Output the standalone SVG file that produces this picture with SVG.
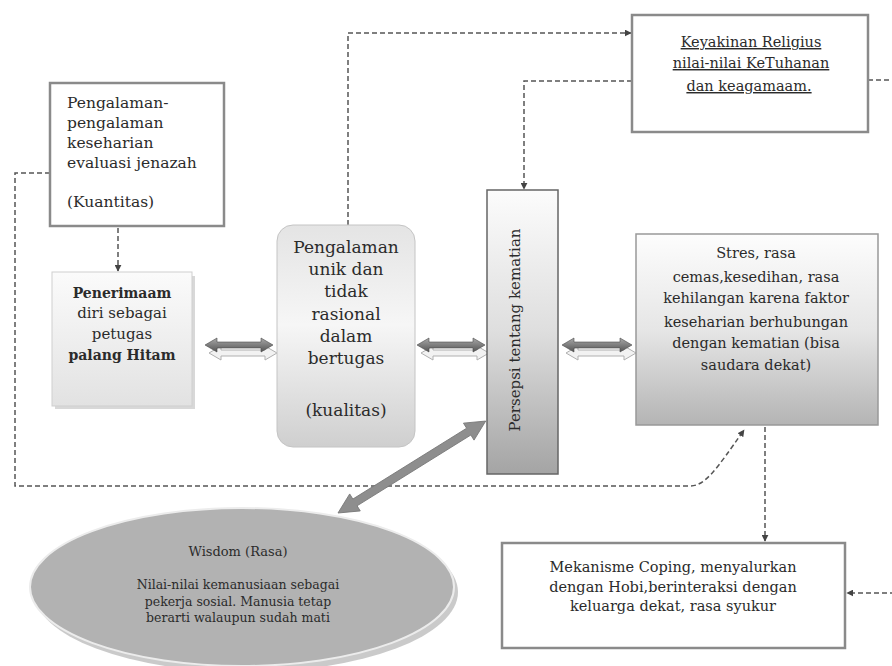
<svg xmlns="http://www.w3.org/2000/svg" width="892" height="666" viewBox="0 0 892 666">
<style>
.t{font-family:"DejaVu Serif","Liberation Serif",serif;fill:#2b2b2b}
.c{text-anchor:middle}
.dash{fill:none;stroke:#555;stroke-width:1.5;stroke-dasharray:5 3}
.arr{stroke:#4a4a4a;stroke-width:0.6}
.sh{fill:#f2f2f2;stroke:#b0b0b0;stroke-width:1}
</style>
<defs>
<marker id="ah" viewBox="0 0 10 10" refX="9" refY="5" markerWidth="7" markerHeight="7" orient="auto" markerUnits="userSpaceOnUse">
<path d="M0,0 L10,5 L0,10 z" fill="#444"/>
</marker>
<linearGradient id="g2" x1="0" y1="0" x2="0" y2="1">
<stop offset="0" stop-color="#fbfbfb"/><stop offset="1" stop-color="#e2e2e2"/>
</linearGradient>
<linearGradient id="g3" x1="0" y1="0" x2="0" y2="1">
<stop offset="0" stop-color="#e4e4e4"/><stop offset="0.45" stop-color="#f6f6f6"/><stop offset="1" stop-color="#cfcfcf"/>
</linearGradient>
<linearGradient id="g4" x1="0" y1="0" x2="0" y2="1">
<stop offset="0" stop-color="#fcfcfc"/><stop offset="0.5" stop-color="#dedede"/><stop offset="1" stop-color="#a4a4a4"/>
</linearGradient>
<linearGradient id="g5" x1="0" y1="0" x2="0" y2="1">
<stop offset="0" stop-color="#fdfdfd"/><stop offset="0.5" stop-color="#e6e6e6"/><stop offset="1" stop-color="#b4b4b4"/>
</linearGradient>
<linearGradient id="ga" x1="0" y1="0" x2="0" y2="1">
<stop offset="0" stop-color="#a8a8a8"/><stop offset="1" stop-color="#555"/>
</linearGradient>
</defs>

<g id="connectors">
<path class="dash" d="M50,173 L15,173 L15,486 L690,486 C705,486 716,470 744,430" marker-end="url(#ah)"/>
<path class="dash" d="M118,228 L118,271" marker-end="url(#ah)"/>
<path class="dash" d="M348,225 L348,33 L631,33" marker-end="url(#ah)"/>
<path class="dash" d="M632,81 L524,81 L524,189" marker-end="url(#ah)"/>
<path class="dash" d="M765,427 L765,541" marker-end="url(#ah)"/>
<path class="dash" d="M868,80 L905,80 L905,593 L847,593" marker-end="url(#ah)"/>
<!-- double block arrows -->
<polygon class="sh" points="209,353 221,346 221,350 265,350 265,346 277,353 265,360 265,356 221,356 221,360"/>
<polygon class="arr" fill="url(#ga)" points="205,345 217,338 217,342 261,342 261,338 273,345 261,352 261,348 217,348 217,352"/>
<polygon class="sh" points="421,353 433,346 433,350 477,350 477,346 489,353 477,360 477,356 433,356 433,360"/>
<polygon class="arr" fill="url(#ga)" points="417,345 429,338 429,342 473,342 473,338 485,345 473,352 473,348 429,348 429,352"/>
<polygon class="sh" points="566,353 578,346 578,350 624,350 624,346 636,353 624,360 624,356 578,356 578,360"/>
<polygon class="arr" fill="url(#ga)" points="562,345 574,338 574,342 620,342 620,338 632,345 620,352 620,348 574,348 574,352"/>
<g transform="translate(338,513) rotate(-31.9)">
<polygon fill="#8e8e8e" stroke="#777" stroke-width="0.8" points="0,0 20,-10 20,-4 154,-4 154,-10 174,0 154,10 154,4 20,4 20,10"/>
</g>
</g>

<g id="n1">
<rect x="50" y="83" width="174" height="143" fill="#fff" stroke="#8a8a8a" stroke-width="2.5"/>
<text class="t" font-size="15.5" x="67"><tspan x="67" y="108">Pengalaman-</tspan><tspan x="67" y="128">pengalaman</tspan><tspan x="67" y="148">keseharian</tspan><tspan x="67" y="168">evaluasi jenazah</tspan><tspan x="67" y="207">(Kuantitas)</tspan></text>
</g>

<g id="n2">
<rect x="55" y="276" width="140" height="133" fill="#d8d8d8"/>
<rect x="52" y="272" width="140" height="134" fill="url(#g2)" stroke="#cfcfcf" stroke-width="1"/>
<text class="t c" font-size="15"><tspan x="122" y="298" font-weight="bold" font-size="14">Penerimaam</tspan><tspan x="122" y="318">diri sebagai</tspan><tspan x="122" y="339">petugas</tspan><tspan x="122" y="360" font-weight="bold" font-size="14">palang Hitam</tspan></text>
</g>

<g id="n3">
<rect x="277" y="225" width="138" height="222" rx="16" fill="url(#g3)" stroke="#c4c4c4" stroke-width="1"/>
<text class="t c" font-size="17"><tspan x="346" y="253">Pengalaman</tspan><tspan x="346" y="275">unik dan</tspan><tspan x="346" y="297">tidak</tspan><tspan x="346" y="320">rasional</tspan><tspan x="346" y="342">dalam</tspan><tspan x="346" y="364">bertugas</tspan><tspan x="346" y="416">(kualitas)</tspan></text>
</g>

<g id="n4">
<rect x="487" y="190" width="71" height="284" fill="url(#g4)" stroke="#666" stroke-width="1.5"/>
<text class="t c" font-size="15" transform="translate(520,330) rotate(-90)" x="0" y="0">Persepsi tentang kematian</text>
</g>

<g id="n5">
<rect x="636" y="234" width="242" height="191" fill="url(#g5)" stroke="#999" stroke-width="1.5"/>
<text class="t c" font-size="14.5"><tspan x="756" y="258">Stres, rasa</tspan><tspan x="756" y="282">cemas,kesedihan, rasa</tspan><tspan x="756" y="303">kehilangan karena faktor</tspan><tspan x="756" y="327">keseharian berhubungan</tspan><tspan x="756" y="348">dengan kematian (bisa</tspan><tspan x="756" y="370">saudara dekat)</tspan></text>
</g>

<g id="n6">
<rect x="632" y="15" width="236" height="117" fill="#fff" stroke="#8a8a8a" stroke-width="2.5"/>
<text class="t c" font-size="14.5" text-decoration="underline"><tspan x="751" y="47">Keyakinan Religius</tspan><tspan x="751" y="68">nilai-nilai KeTuhanan</tspan><tspan x="749" y="91">dan keagamaam.</tspan></text>
</g>

<g id="n7">
<rect x="502" y="543" width="343" height="105" fill="#fff" stroke="#8a8a8a" stroke-width="2.5"/>
<text class="t c" font-size="14.5"><tspan x="673" y="572">Mekanisme Coping, menyalurkan</tspan><tspan x="673" y="592">dengan Hobi,berinteraksi dengan</tspan><tspan x="673" y="611">keluarga dekat, rasa syukur</tspan></text>
</g>

<g id="n8">
<ellipse cx="246" cy="592" rx="212" ry="80" fill="#a6a6a6" opacity="0.6"/>
<ellipse cx="242" cy="587" rx="212" ry="79" fill="#b2b2b2" stroke="#ececec" stroke-width="2"/>
<text class="t c" font-size="13" fill="#333"><tspan x="238" y="556">Wisdom (Rasa)</tspan><tspan x="238" y="589" font-size="12.5">Nilai-nilai kemanusiaan sebagai</tspan><tspan x="238" y="606" font-size="12.5">pekerja sosial. Manusia tetap</tspan><tspan x="238" y="622" font-size="12.5">berarti walaupun sudah mati</tspan></text>
</g>
</svg>
